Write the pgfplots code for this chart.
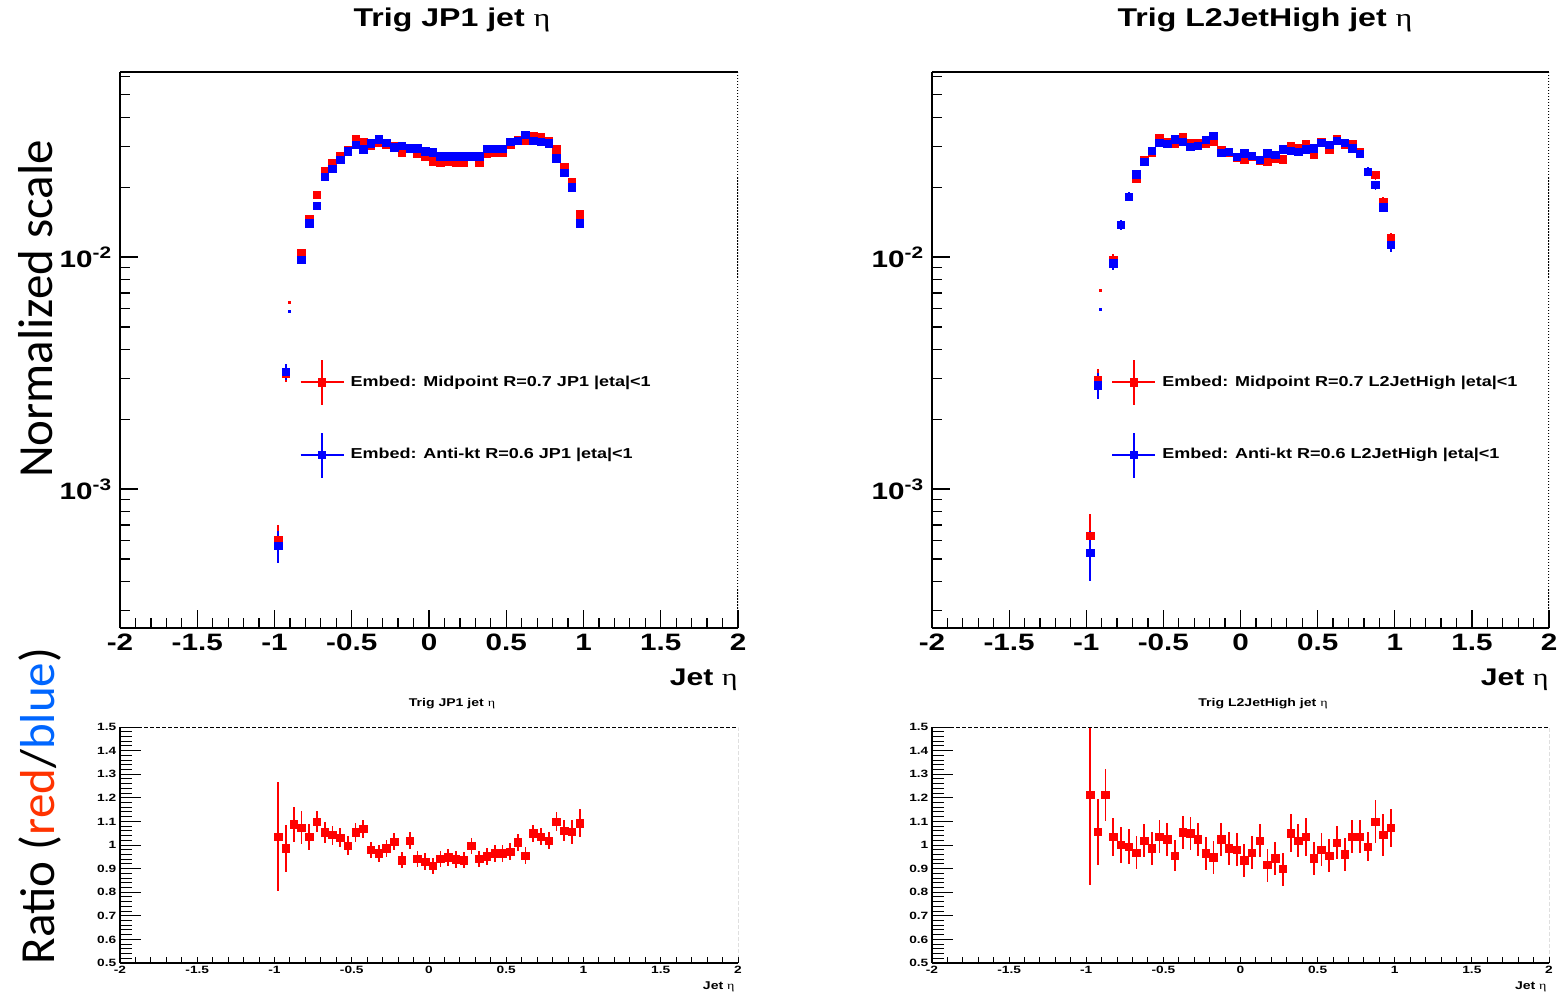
\documentclass[border=0pt]{standalone}
\usepackage{pgfplots}
\usepackage{pgfplotstable}
\pgfplotsset{compat=1.18}
\usepackage{fontspec}
\setmainfont{Liberation Sans}
\newfontfamily\serifeta{Liberation Serif}
\newfontfamily\calib{Carlito}
\newcommand{\etat}{{\serifeta\mdseries η}}
\definecolor{txtred}{RGB}{255,51,0}
\definecolor{txtblue}{RGB}{0,102,255}

\pgfplotstableread{
x y ey
-0.975 6.0e-4 1.0e-4
-0.925 3.15e-3 2.5e-4
-0.825 0.0104 0.0004
-0.775 0.0145 0.0004
-0.725 0.0185 0.0005
-0.675 0.0235 0.0006
-0.625 0.0253 0.0006
-0.575 0.0272 0.0006
-0.525 0.0289 0.0007
-0.475 0.0323 0.0007
-0.425 0.0313 0.0007
-0.375 0.0303 0.0007
-0.325 0.0310 0.0007
-0.275 0.0305 0.0007
-0.225 0.0301 0.0007
-0.175 0.0282 0.0007
-0.125 0.0296 0.0007
-0.075 0.0278 0.0007
-0.025 0.0271 0.0007
0.025 0.0259 0.0006
0.075 0.0255 0.0006
0.125 0.0257 0.0006
0.175 0.0255 0.0006
0.225 0.0254 0.0006
0.275 0.0270 0.0006
0.325 0.0256 0.0006
0.375 0.0278 0.0007
0.425 0.0282 0.0007
0.475 0.0282 0.0007
0.525 0.0305 0.0007
0.575 0.0319 0.0007
0.625 0.0318 0.0007
0.675 0.0332 0.0007
0.725 0.0328 0.0007
0.775 0.0316 0.0007
0.825 0.0291 0.0007
0.875 0.0245 0.0006
0.925 0.0211 0.0005
0.975 0.0153 0.0004
}\TLred

\pgfplotstableread{
x y ey
-0.975 5.7e-4 0.9e-4
-0.925 3.2e-3 2.5e-4
-0.825 0.0097 0.0004
-0.775 0.0140 0.0004
-0.725 0.0166 0.0005
-0.675 0.0221 0.0006
-0.625 0.0240 0.0006
-0.575 0.0262 0.0006
-0.525 0.0286 0.0007
-0.475 0.0304 0.0007
-0.425 0.0291 0.0007
-0.375 0.0309 0.0007
-0.325 0.0322 0.0007
-0.275 0.0311 0.0007
-0.225 0.0297 0.0007
-0.175 0.0301 0.0007
-0.125 0.0294 0.0007
-0.075 0.0294 0.0007
-0.025 0.0286 0.0007
0.025 0.0283 0.0006
0.075 0.0271 0.0006
0.125 0.0271 0.0006
0.175 0.0271 0.0006
0.225 0.0271 0.0006
0.275 0.0271 0.0006
0.325 0.0271 0.0006
0.375 0.0292 0.0007
0.425 0.0292 0.0007
0.475 0.0292 0.0007
0.525 0.0314 0.0007
0.575 0.0317 0.0007
0.625 0.0336 0.0007
0.675 0.0317 0.0007
0.725 0.0314 0.0007
0.775 0.0309 0.0007
0.825 0.0266 0.0007
0.875 0.0231 0.0006
0.925 0.0200 0.0005
0.975 0.0140 0.0004
}\TLblue

\pgfplotstableread{
x y ey
-0.975 6.3e-4 1.5e-4
-0.925 2.95e-3 3.5e-4
-0.825 0.00971 0.0006
-0.775 0.01374 0.0007
-0.725 0.0182 0.0008
-0.675 0.02183 0.0009
-0.625 0.0262 0.0010
-0.575 0.02815 0.0011
-0.525 0.03248 0.0012
-0.475 0.03141 0.0012
-0.425 0.0307 0.0012
-0.375 0.03281 0.0012
-0.325 0.03091 0.0012
-0.275 0.0311 0.0012
-0.225 0.03091 0.0012
-0.175 0.03141 0.0012
-0.125 0.02892 0.0011
-0.075 0.02815 0.0011
-0.025 0.02679 0.0011
0.025 0.02618 0.0011
0.075 0.02705 0.0011
0.125 0.0260 0.0011
0.175 0.02575 0.0011
0.225 0.02662 0.0011
0.275 0.02636 0.0011
0.325 0.03009 0.0012
0.375 0.02941 0.0012
0.425 0.0307 0.0012
0.475 0.02752 0.0011
0.525 0.03141 0.0012
0.575 0.02912 0.0012
0.625 0.03216 0.0012
0.675 0.0304 0.0012
0.725 0.0307 0.0012
0.775 0.02844 0.0011
0.825 0.02331 0.0010
0.875 0.02257 0.0010
0.925 0.01731 0.0008
0.975 0.01203 0.0007
}\TRred

\pgfplotstableread{
x y ey
-0.975 5.3e-4 1.3e-4
-0.925 2.8e-3 3.5e-4
-0.825 0.00939 0.0006
-0.775 0.01374 0.0007
-0.725 0.0182 0.0008
-0.675 0.02272 0.0009
-0.625 0.02575 0.0010
-0.575 0.02863 0.0011
-0.525 0.0311 0.0012
-0.475 0.0307 0.0012
-0.425 0.03216 0.0012
-0.375 0.03141 0.0012
-0.325 0.02988 0.0012
-0.275 0.03009 0.0012
-0.225 0.03193 0.0012
-0.175 0.03323 0.0012
-0.125 0.02815 0.0011
-0.075 0.02844 0.0011
-0.025 0.02705 0.0011
0.025 0.02799 0.0011
0.075 0.02724 0.0011
0.125 0.02618 0.0011
0.175 0.02799 0.0011
0.225 0.02752 0.0011
0.275 0.02912 0.0012
0.325 0.02871 0.0012
0.375 0.02844 0.0011
0.425 0.02912 0.0012
0.475 0.02941 0.0012
0.525 0.0311 0.0012
0.575 0.0304 0.0012
0.625 0.03171 0.0012
0.675 0.0311 0.0012
0.725 0.02941 0.0012
0.775 0.0278 0.0011
0.825 0.02331 0.0010
0.875 0.02043 0.0009
0.925 0.01638 0.0008
0.975 0.01126 0.0007
}\TRblue

\pgfplotstableread{
x y ey
-0.975 1.035 0.23
-0.925 0.986 0.10
-0.875 1.088 0.075
-0.825 1.073 0.07
-0.775 1.035 0.055
-0.725 1.099 0.045
-0.675 1.054 0.045
-0.625 1.042 0.04
-0.575 1.031 0.04
-0.525 0.997 0.04
-0.475 1.054 0.04
-0.425 1.068 0.04
-0.375 0.979 0.035
-0.325 0.965 0.035
-0.275 0.986 0.035
-0.225 1.014 0.035
-0.175 0.936 0.035
-0.125 1.018 0.035
-0.075 0.941 0.035
-0.025 0.929 0.035
0.025 0.911 0.035
0.075 0.941 0.035
0.125 0.948 0.035
0.175 0.939 0.035
0.225 0.936 0.035
0.275 0.996 0.035
0.325 0.941 0.035
0.375 0.951 0.035
0.425 0.965 0.035
0.475 0.965 0.035
0.525 0.972 0.035
0.575 1.011 0.035
0.625 0.955 0.035
0.675 1.049 0.035
0.725 1.035 0.035
0.775 1.018 0.035
0.825 1.099 0.04
0.875 1.061 0.045
0.925 1.056 0.05
0.975 1.092 0.06
}\RL

\pgfplotstableread{
x y ey
-0.975 1.212 0.38
-0.925 1.056 0.14
-0.875 1.212 0.11
-0.825 1.035 0.08
-0.775 1.000 0.075
-0.725 0.993 0.075
-0.675 0.967 0.07
-0.625 1.018 0.07
-0.575 0.986 0.07
-0.525 1.035 0.07
-0.475 1.025 0.07
-0.425 0.955 0.065
-0.375 1.054 0.07
-0.325 1.050 0.07
-0.275 1.024 0.07
-0.225 0.965 0.07
-0.175 0.948 0.07
-0.125 1.025 0.07
-0.075 0.986 0.07
-0.025 0.979 0.07
0.025 0.936 0.07
0.075 0.967 0.07
0.125 1.018 0.07
0.175 0.915 0.07
0.225 0.944 0.07
0.275 0.898 0.07
0.325 1.050 0.08
0.375 1.018 0.07
0.425 1.035 0.08
0.475 0.944 0.07
0.525 0.979 0.07
0.575 0.955 0.07
0.625 1.010 0.07
0.675 0.961 0.07
0.725 1.035 0.07
0.775 1.035 0.07
0.825 0.993 0.06
0.875 1.099 0.09
0.925 1.042 0.09
0.975 1.073 0.08
}\RR

\pgfplotsset{
  mypts/.style={only marks, mark=square*, mark size=0.75mm, color=#1,
    mark options={solid, draw=#1, fill=#1},
    error bars/x dir=both, error bars/x fixed=0.025,
    error bars/y dir=both, error bars/y explicit,
    error bars/error bar style={line width=0.35mm, #1},
    error bars/error mark=none},
  mytiny/.style={only marks, mark=square*, mark size=0.2mm, color=#1,
    mark options={draw=#1, fill=#1}, forget plot},
  myleg/.style={legend image code/.code={
    \draw[#1, line width=0.35mm] (0mm,0mm) -- (8.6mm,0mm) (4.3mm,-4.5mm) -- (4.3mm,4.5mm);
    \fill[#1] (3.55mm,-0.75mm) rectangle (5.05mm,0.75mm);}},
}

\begin{document}
\begin{tikzpicture}
\path (0,0) rectangle (311.4mm,198.8mm);

% ---- top left
\begin{axis}[scale only axis, anchor=south west, at={(24mm,73.2mm)},
    width=123.6mm, height=111.2mm,
    axis x line*=bottom, axis y line*=left,
    axis line style={-, line width=0.3mm}, tick align=inside,
    tick style={black, line width=0.25mm},
    xmin=-2, xmax=2,
    xtick={-2,-1.5,-1,-0.5,0,0.5,1,1.5,2},
    xticklabels={-2,-1.5,-1,-0.5,0,0.5,1,1.5,2},
    minor x tick num=4,
    ymode=log, ymin=2.52e-4, ymax=0.0627,
    ytick={1e-3,1e-2},
    yticklabels={\textbf{10}\textsuperscript{\textbf{-3}},\textbf{10}\textsuperscript{\textbf{-2}}},
    minor ytick={3e-4,4e-4,5e-4,6e-4,7e-4,8e-4,9e-4,2e-3,3e-3,4e-3,5e-3,6e-3,7e-3,8e-3,9e-3,2e-2,3e-2,4e-2,5e-2,6e-2},
    major tick length=3.6mm, minor tick length=2mm,
    tick label style={font=\bfseries\fontsize{13.5}{14}\selectfont, xscale=1.25},
    legend cell align=left,
    legend style={draw=none, fill=none, at={(0.2816,0.491)}, anchor=north west,
      row sep=5.2mm, font=\bfseries\fontsize{8.2}{10}\selectfont, nodes={inner sep=1mm, xscale=1.25}},
    ]
\addplot[myleg=red, mypts=red] table[x=x, y=y, y error=ey] {\TLred};
\addlegendentry{Embed: Midpoint R=0.7 JP1 |eta|<1}
\addplot[myleg=blue, mypts=blue] table[x=x, y=y, y error=ey] {\TLblue};
\addlegendentry{Embed: Anti-kt R=0.6 JP1 |eta|<1}
\addplot[mytiny=red] coordinates {(-0.905,0.0064)};
\addplot[mytiny=blue] coordinates {(-0.905,0.00585)};
\draw[line width=0.25mm] (rel axis cs:0,1) -- (rel axis cs:1,1);
\draw[line width=0.25mm, densely dotted] (rel axis cs:1,1) -- (rel axis cs:1,0);
\end{axis}

% ---- top right
\begin{axis}[scale only axis, anchor=south west, at={(186.4mm,73.2mm)},
    width=123.4mm, height=111.2mm,
    axis x line*=bottom, axis y line*=left,
    axis line style={-, line width=0.3mm}, tick align=inside,
    tick style={black, line width=0.25mm},
    xmin=-2, xmax=2,
    xtick={-2,-1.5,-1,-0.5,0,0.5,1,1.5,2},
    xticklabels={-2,-1.5,-1,-0.5,0,0.5,1,1.5,2},
    minor x tick num=4,
    ymode=log, ymin=2.52e-4, ymax=0.0627,
    ytick={1e-3,1e-2},
    yticklabels={\textbf{10}\textsuperscript{\textbf{-3}},\textbf{10}\textsuperscript{\textbf{-2}}},
    minor ytick={3e-4,4e-4,5e-4,6e-4,7e-4,8e-4,9e-4,2e-3,3e-3,4e-3,5e-3,6e-3,7e-3,8e-3,9e-3,2e-2,3e-2,4e-2,5e-2,6e-2},
    major tick length=3.6mm, minor tick length=2mm,
    tick label style={font=\bfseries\fontsize{13.5}{14}\selectfont, xscale=1.25},
    legend cell align=left,
    legend style={draw=none, fill=none, at={(0.2816,0.491)}, anchor=north west,
      row sep=5.2mm, font=\bfseries\fontsize{8.2}{10}\selectfont, nodes={inner sep=1mm, xscale=1.25}},
    ]
\addplot[myleg=red, mypts=red] table[x=x, y=y, y error=ey] {\TRred};
\addlegendentry{Embed: Midpoint R=0.7 L2JetHigh |eta|<1}
\addplot[myleg=blue, mypts=blue] table[x=x, y=y, y error=ey] {\TRblue};
\addlegendentry{Embed: Anti-kt R=0.6 L2JetHigh |eta|<1}
\addplot[mytiny=red] coordinates {(-0.906,0.0072)};
\addplot[mytiny=blue] coordinates {(-0.906,0.00595)};
\draw[line width=0.25mm] (rel axis cs:0,1) -- (rel axis cs:1,1);
\draw[line width=0.25mm, densely dotted] (rel axis cs:1,1) -- (rel axis cs:1,0);
\end{axis}

% ---- bottom left
\begin{axis}[scale only axis, anchor=south west, at={(24mm,6.2mm)},
    width=123.6mm, height=47.2mm,
    axis x line*=bottom, axis y line*=left,
    axis line style={-, line width=0.25mm}, tick align=inside,
    tick style={black, line width=0.2mm},
    xmin=-2, xmax=2,
    xtick=\empty,
    extra x ticks={-2,-1.9,-1.8,-1.7,-1.6,-1.5,-1.4,-1.3,-1.2,-1.1,-1,-0.9,-0.8,-0.7,-0.6,-0.5,-0.4,-0.3,-0.2,-0.1,0,0.1,0.2,0.3,0.4,0.5,0.6,0.7,0.8,0.9,1,1.1,1.2,1.3,1.4,1.5,1.6,1.7,1.8,1.9,2},
    extra x tick labels={-2,,,,,-1.5,,,,,-1,,,,,-0.5,,,,,0,,,,,0.5,,,,,1,,,,,1.5,,,,,2},
    extra tick style={major tick length=1.3mm},
    ymin=0.5, ymax=1.5,
    ytick={0.5,0.6,0.7,0.8,0.9,1,1.1,1.2,1.3,1.4,1.5},
    yticklabels={0.5,0.6,0.7,0.8,0.9,1,1.1,1.2,1.3,1.4,1.5},
    minor y tick num=4,
    major tick length=4.2mm, minor tick length=2.4mm,
    tick label style={font=\bfseries\fontsize{6}{6}\selectfont, xscale=1.3, inner sep=0.5mm},
    ]
\addplot[mypts=red] table[x=x, y=y, y error=ey] {\RL};
\draw[line width=0.2mm, dash pattern=on 0.8mm off 0.4mm] (rel axis cs:0,1) -- (rel axis cs:1,1) -- (rel axis cs:1,0);
\end{axis}

% ---- bottom right
\begin{axis}[scale only axis, anchor=south west, at={(186.4mm,6.2mm)},
    width=123.4mm, height=47.2mm,
    axis x line*=bottom, axis y line*=left,
    axis line style={-, line width=0.25mm}, tick align=inside,
    tick style={black, line width=0.2mm},
    xmin=-2, xmax=2,
    xtick=\empty,
    extra x ticks={-2,-1.9,-1.8,-1.7,-1.6,-1.5,-1.4,-1.3,-1.2,-1.1,-1,-0.9,-0.8,-0.7,-0.6,-0.5,-0.4,-0.3,-0.2,-0.1,0,0.1,0.2,0.3,0.4,0.5,0.6,0.7,0.8,0.9,1,1.1,1.2,1.3,1.4,1.5,1.6,1.7,1.8,1.9,2},
    extra x tick labels={-2,,,,,-1.5,,,,,-1,,,,,-0.5,,,,,0,,,,,0.5,,,,,1,,,,,1.5,,,,,2},
    extra tick style={major tick length=1.3mm},
    ymin=0.5, ymax=1.5,
    ytick={0.5,0.6,0.7,0.8,0.9,1,1.1,1.2,1.3,1.4,1.5},
    yticklabels={0.5,0.6,0.7,0.8,0.9,1,1.1,1.2,1.3,1.4,1.5},
    minor y tick num=4,
    major tick length=4.2mm, minor tick length=2.4mm,
    tick label style={font=\bfseries\fontsize{6}{6}\selectfont, xscale=1.3, inner sep=0.5mm},
    ]
\addplot[mypts=red] table[x=x, y=y, y error=ey] {\RR};
\draw[line width=0.2mm, dash pattern=on 0.8mm off 0.4mm] (rel axis cs:0,1) -- (rel axis cs:1,1) -- (rel axis cs:1,0);
\end{axis}

% titles and labels
\node[font=\bfseries\fontsize{14.6}{16}\selectfont, xscale=1.25] at (90.4mm,194.8mm) {Trig JP1 jet \etat};
\node[font=\bfseries\fontsize{14.6}{16}\selectfont, xscale=1.25] at (253mm,194.8mm) {Trig L2JetHigh jet \etat};
\node[font=\bfseries\fontsize{13.7}{15}\selectfont, xscale=1.25, anchor=east, inner sep=0pt] at (147.6mm,62.8mm) {Jet \etat};
\node[font=\bfseries\fontsize{13.7}{15}\selectfont, xscale=1.25, anchor=east, inner sep=0pt] at (309.8mm,62.8mm) {Jet \etat};
\node[font=\bfseries\fontsize{6.4}{7}\selectfont, xscale=1.25] at (90.4mm,58mm) {Trig JP1 jet \etat};
\node[font=\bfseries\fontsize{6.4}{7}\selectfont, xscale=1.25] at (252.6mm,58mm) {Trig L2JetHigh jet \etat};
\node[font=\bfseries\fontsize{6.4}{7}\selectfont, xscale=1.25, anchor=east, inner sep=0pt] at (147mm,1.4mm) {Jet \etat};
\node[font=\bfseries\fontsize{6.4}{7}\selectfont, xscale=1.25, anchor=east, inner sep=0pt] at (309.4mm,1.4mm) {Jet \etat};
\node[font=\calib\fontsize{27.9}{30}\selectfont, rotate=90] at (7.2mm,137mm) {Normalized scale};
\node[font=\calib\fontsize{27.9}{30}\selectfont, rotate=90] at (8mm,37.6mm) {Ratio (\textcolor{txtred}{red}/\textcolor{txtblue}{blue})};

\pgfresetboundingbox
\useasboundingbox (0,0) rectangle (311.4mm,198.8mm);
\end{tikzpicture}
\end{document}
